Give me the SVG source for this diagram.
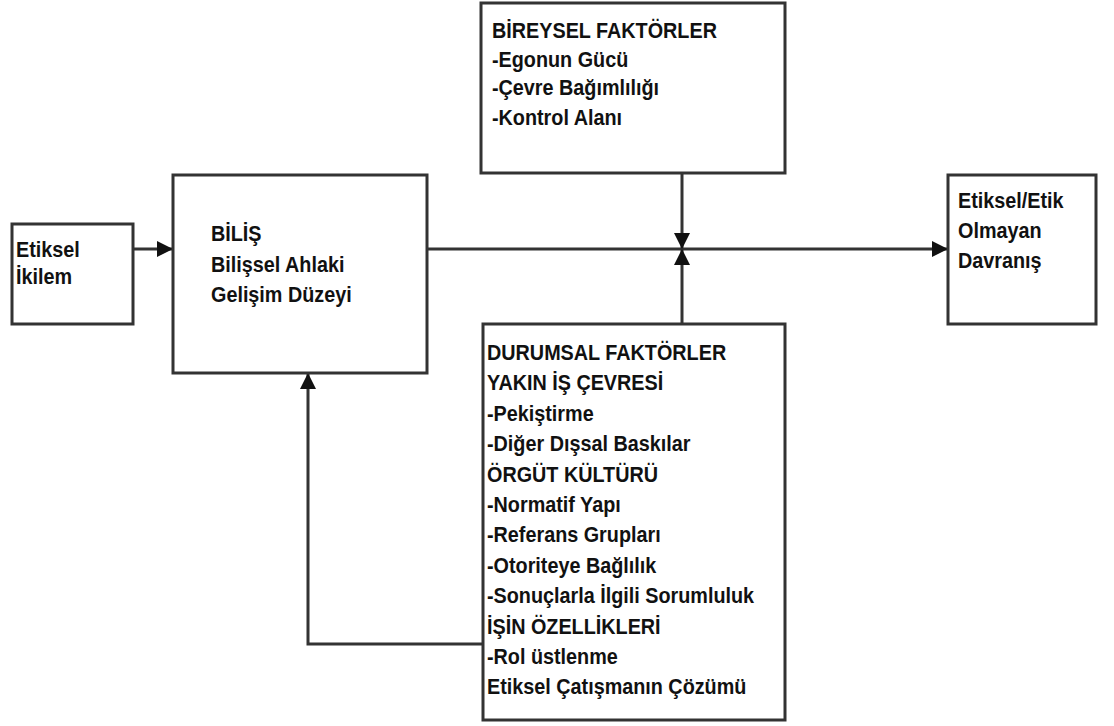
<svg xmlns="http://www.w3.org/2000/svg" width="1114" height="726" viewBox="0 0 1114 726">
<style>
.box{fill:#fff;stroke:#333;stroke-width:3}
.ln{fill:none;stroke:#333;stroke-width:3}
text{font-family:"Liberation Sans",Arial,sans-serif;font-weight:bold;font-size:22px;fill:#111}
</style>
<defs>
<marker id="ah2" viewBox="0 0 10 10" refX="10" refY="5" markerWidth="16" markerHeight="16" markerUnits="userSpaceOnUse" orient="auto">
<path d="M0,0 L10,5 L0,10 z" fill="#111"/>
</marker>
</defs>
<rect width="1114" height="726" fill="#fff"/>
<g id="connectors">
<line class="ln" x1="133" y1="249" x2="173" y2="249" marker-end="url(#ah2)"/>
<line class="ln" x1="428" y1="249" x2="948" y2="249" marker-end="url(#ah2)"/>
<line class="ln" x1="682" y1="173" x2="682" y2="249" marker-end="url(#ah2)"/>
<line class="ln" x1="682" y1="324" x2="682" y2="249" marker-end="url(#ah2)"/>
<polyline class="ln" points="483,644 308,644 308,373" marker-end="url(#ah2)"/>
</g>
<g id="etiksel-ikilem">
<rect class="box" x="12" y="224" width="121" height="100"/>
<g transform="translate(16,0) scale(0.9,1)">
<text x="0" y="257">Etiksel</text>
<text x="0" y="284">İkilem</text>
</g>
</g>
<g id="bilis">
<rect class="box" x="173" y="175" width="254" height="198"/>
<g transform="translate(211,0) scale(0.9,1)">
<text x="0" y="241">BİLİŞ</text>
<text x="0" y="272">Bilişsel Ahlaki</text>
<text x="0" y="302">Gelişim Düzeyi</text>
</g>
</g>
<g id="bireysel">
<rect class="box" x="481" y="3" width="304" height="170"/>
<g transform="translate(492,0) scale(0.9,1)">
<text x="0" y="38">BİREYSEL FAKTÖRLER</text>
<text x="0" y="67">-Egonun Gücü</text>
<text x="0" y="95">-Çevre Bağımlılığı</text>
<text x="0" y="125">-Kontrol Alanı</text>
</g>
</g>
<g id="durumsal">
<rect class="box" x="483" y="324" width="302" height="396"/>
<g transform="translate(487,0) scale(0.9,1)">
<text x="0" y="360">DURUMSAL FAKTÖRLER</text>
<text x="0" y="390">YAKIN İŞ ÇEVRESİ</text>
<text x="0" y="421">-Pekiştirme</text>
<text x="0" y="451">-Diğer Dışsal Baskılar</text>
<text x="0" y="482">ÖRGÜT KÜLTÜRÜ</text>
<text x="0" y="512">-Normatif Yapı</text>
<text x="0" y="542">-Referans Grupları</text>
<text x="0" y="573">-Otoriteye Bağlılık</text>
<text x="0" y="603">-Sonuçlarla İlgili Sorumluluk</text>
<text x="0" y="634">İŞİN ÖZELLİKLERİ</text>
<text x="0" y="664">-Rol üstlenme</text>
<text x="0" y="694">Etiksel Çatışmanın Çözümü</text>
</g>
</g>
<g id="davranis">
<rect class="box" x="948" y="175" width="148" height="149"/>
<g transform="translate(958,0) scale(0.9,1)">
<text x="0" y="208">Etiksel/Etik</text>
<text x="0" y="238">Olmayan</text>
<text x="0" y="268">Davranış</text>
</g>
</g>
</svg>
